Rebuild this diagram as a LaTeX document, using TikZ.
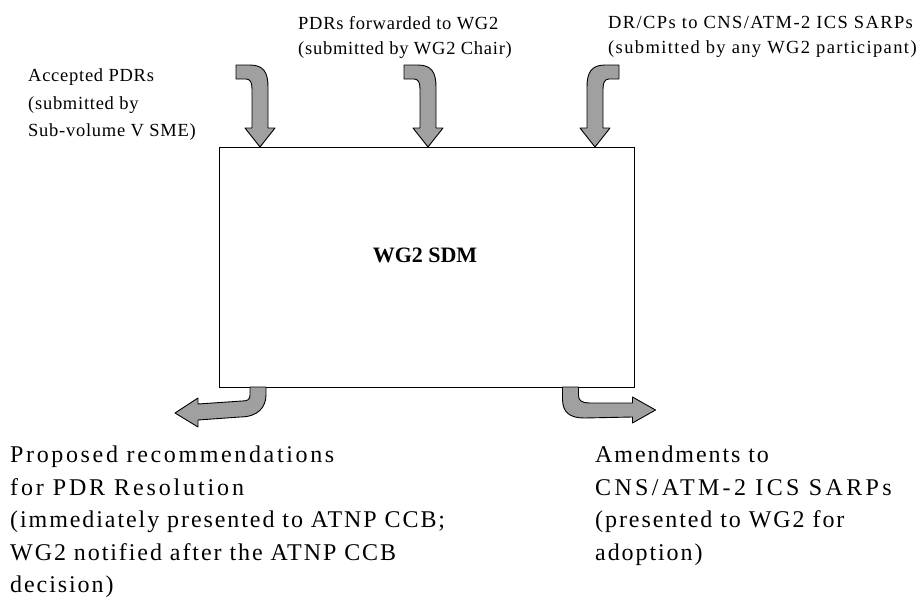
\documentclass[tikz,border=0pt]{standalone}
\usepackage{fontspec}
\setmainfont{Liberation Serif}
\newfontfamily\smallspaced[LetterSpace=4]{Liberation Serif}
\newfontfamily\widespaced[LetterSpace=7.5]{Liberation Serif}
\newfontfamily\bigspaced[LetterSpace=8]{Liberation Serif}
\begin{document}
\begin{tikzpicture}[x=1pt,y=-1pt,
  bentarrow/.style={draw=black,line width=0.9pt,fill={rgb,255:red,160;green,160;blue,160},line join=round},
  toplabel/.style={anchor=north west,align=left,inner sep=0pt,font=\smallspaced\fontsize{18.5}{25}\selectfont},
  sidelabel/.style={anchor=north west,align=left,inner sep=0pt,font=\smallspaced\fontsize{18.5}{27.5}\selectfont},
  botlabel/.style={anchor=north west,align=left,inner sep=0pt,font=\bigspaced\fontsize{24}{32.5}\selectfont}]
\useasboundingbox (0,0) rectangle (923,608);
% main box
\node[draw=black,line width=0.9pt,minimum width=415pt,minimum height=240pt,inner sep=0pt] (sdm) at (426.5,267) {};
\node[font=\bfseries\fontsize{22}{26}\selectfont] (sdmlabel) at (425,255) {WG2 SDM};
% labels
\node[sidelabel] (lab1) at (28,68.5) {Accepted PDRs\\(submitted by\\Sub-volume V SME)};
\node[toplabel] (lab2) at (298,16.5) {PDRs forwarded to WG2\\(submitted by WG2 Chair)};
\node[toplabel,font=\widespaced\fontsize{18.5}{25}\selectfont] (lab3) at (608,16.5) {DR/CPs to CNS/ATM-2 ICS SARPs\\(submitted by any WG2 participant)};
\node[botlabel] (lab4) at (10,446) {{\addfontfeature{LetterSpace=11}Proposed recommendations}\\{\addfontfeature{LetterSpace=12}for PDR Resolution}\\(immediately presented to ATNP CCB;\\WG2 notified after the ATNP CCB\\decision)};
\node[botlabel] (lab5) at (595,446) {Amendments to\\{\addfontfeature{LetterSpace=14}CNS/ATM-2 ICS SARPs}\\(presented to WG2 for\\adoption)};
% top arrows
\foreach \cx/\sx in {260/1,428/1,595/-1}{
  \begin{scope}[shift={(\cx,65)},xscale=\sx]
  \draw[bentarrow] (-24,0) -- (-10,0) .. controls (4,0) and (8,8) .. (8,22) -- (8,63) -- (15,63) -- (0,82) -- (-15,63) -- (-8,63) -- (-8,24) .. controls (-8,17) and (-10,14) .. (-14,14) -- (-24,14) -- cycle;
  \end{scope}
}
% bottom left arrow
\begin{scope}[shift={(258,387)}]
\draw[bentarrow] (-8,0) -- (-8,8) .. controls (-8,13) and (-11,14) .. (-16,14) -- (-60,17) -- (-60,11) -- (-83,26) -- (-60,40) -- (-60,33) -- (-18,30) .. controls (0,30) and (8,20) .. (8,8) -- (8,0) -- cycle;
\end{scope}
% bottom right arrow
\begin{scope}[shift={(570.5,387)}]
\draw[bentarrow] (-8,0) -- (-8,12) .. controls (-8,26) and (0,31) .. (14,31) -- (62,30) -- (62,36) -- (85,23) -- (62,10) -- (62,16) -- (20,16) .. controls (10,16) and (8,13) .. (8,8) -- (8,0) -- cycle;
\end{scope}
\end{tikzpicture}
\end{document}
